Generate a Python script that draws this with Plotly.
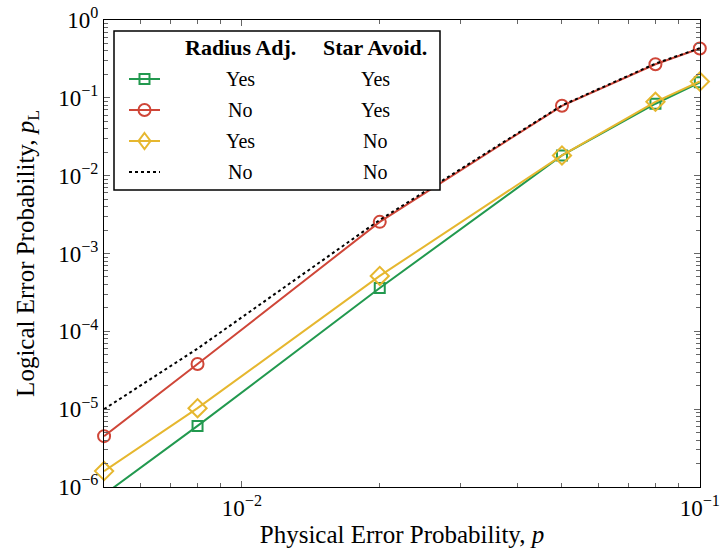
import plotly.graph_objects as go

# ---------------- data ----------------
p_vals = [0.005, 0.008, 0.02, 0.05, 0.08, 0.1]
pl_yes_yes = [8.0e-7, 6.1e-6, 3.6e-4, 0.0182, 0.084, 0.158]   # Radius Adj. Yes, Star Avoid. Yes
pl_no_yes = [4.5e-6, 3.8e-5, 2.55e-3, 0.079, 0.27, 0.43]      # Radius Adj. No,  Star Avoid. Yes
pl_yes_no = [1.6e-6, 1.03e-5, 5.15e-4, 0.0182, 0.089, 0.162]  # Radius Adj. Yes, Star Avoid. No
pl_no_no = [1.0e-5, 6.0e-5, 2.7e-3, 0.08, 0.275, 0.435]       # Radius Adj. No,  Star Avoid. No

radius_col = ["Yes", "No", "Yes", "No"]
star_col = ["Yes", "Yes", "No", "No"]
header = ["Radius Adj.", "Star Avoid."]

x_tickvals = [0.01, 0.1]
x_ticktext = ["10<sup>−2</sup>", "10<sup>−1</sup>"]
y_exps = [-6, -5, -4, -3, -2, -1, 0]
y_tickvals = [10.0 ** e for e in y_exps]
y_ticktext = ["10<sup>%s</sup>" % (("−%d" % -e) if e < 0 else "%d" % e) for e in y_exps]

GREEN = "#22994f"
RED = "#cf4638"
YELLOW = "#e6b72f"
BLACK = "#000000"

FONT = "Liberation Serif"

# plot area in pixels (for legend layout)
L, R, T, B = 104, 700, 20, 487
W, H = 725, 548


def px(xp):
    return (xp - L) / (R - L)


def py(yp):
    return (B - yp) / (B - T)


fig = go.Figure()

fig.add_trace(go.Scatter(x=p_vals, y=pl_yes_yes, mode="lines+markers",
                         line=dict(color=GREEN, width=2),
                         marker=dict(symbol="square-open", size=10, color=GREEN, line=dict(width=2)),
                         cliponaxis=True, showlegend=False))
fig.add_trace(go.Scatter(x=p_vals, y=pl_no_yes, mode="lines+markers",
                         line=dict(color=RED, width=2),
                         marker=dict(symbol="circle-open", size=12, color=RED, line=dict(width=2)),
                         cliponaxis=False, showlegend=False))
fig.add_trace(go.Scatter(x=p_vals, y=pl_yes_no, mode="lines+markers",
                         line=dict(color=YELLOW, width=2),
                         marker=dict(symbol="diamond-open", size=14, color=YELLOW, line=dict(width=2)),
                         cliponaxis=False, showlegend=False))
fig.add_trace(go.Scatter(x=p_vals, y=pl_no_no, mode="lines",
                         line=dict(color=BLACK, width=2, dash="dot"),
                         showlegend=False))

# minor ticks (2..9 per decade)
y_minor = [k * 10.0 ** e for e in range(-6, 0) for k in range(2, 10)]
x_minor = [k * 10.0 ** e for e in range(-3, -1) for k in range(2, 10) if 0.005 <= k * 10.0 ** e <= 0.1]

axis_common = dict(showgrid=False, zeroline=False, showline=True, linecolor="black", linewidth=1,
                   ticks="inside", ticklen=6, tickcolor="#666", tickwidth=1, mirror="allticks",
                   automargin=False,
                   tickfont=dict(family=FONT, size=23, color="black"))

fig.update_xaxes(type="log", range=[-2.3012, -0.9996], tickmode="array", tickvals=x_tickvals,
                 ticktext=x_ticktext,
                 minor=dict(tickmode="array", tickvals=x_minor, ticks="inside", ticklen=4,
                            tickcolor="#666", showgrid=False),
                 title=dict(text="Physical Error Probability, <i>p</i>",
                            font=dict(family=FONT, size=25, color="black"), standoff=9),
                 **axis_common)
fig.update_yaxes(type="log", range=[-6, 0], tickmode="array", tickvals=y_tickvals,
                 ticktext=y_ticktext,
                 minor=dict(tickmode="array", tickvals=y_minor, ticks="inside", ticklen=4,
                            tickcolor="#666", showgrid=False),
                 title=dict(text="Logical Error Probability, <i>p</i><sub>L</sub>",
                            font=dict(family=FONT, size=25, color="black"), standoff=16),
                 **axis_common)

# ---------------- custom legend ----------------
shapes = []
annotations = []
box = dict(x0=114, x1=440, y0=31, y1=190)
shapes.append(dict(type="rect", xref="paper", yref="paper", layer="above",
                   x0=px(box["x0"]), x1=px(box["x1"]), y0=py(box["y1"]), y1=py(box["y0"]),
                   line=dict(color="black", width=1.5), fillcolor="white"))

row_y = [79, 110, 141, 172]
gx0, gx1, gxc = 129, 160, 144.5
colors = [GREEN, RED, YELLOW, BLACK]
for i, yy in enumerate(row_y):
    c = colors[i]
    shapes.append(dict(type="line", xref="paper", yref="paper", layer="above",
                       x0=px(gx0), x1=px(gx1), y0=py(yy), y1=py(yy),
                       line=dict(color=c, width=2, dash="dot" if i == 3 else "solid")))
    if i == 0:
        shapes.append(dict(type="rect", xref="paper", yref="paper", layer="above",
                           x0=px(gxc - 5), x1=px(gxc + 5), y0=py(yy + 5), y1=py(yy - 5),
                           line=dict(color=c, width=2)))
    elif i == 1:
        shapes.append(dict(type="circle", xref="paper", yref="paper", layer="above",
                           x0=px(gxc - 6), x1=px(gxc + 6), y0=py(yy + 6), y1=py(yy - 6),
                           line=dict(color=c, width=2)))
    elif i == 2:
        path = "M %f,%f L %f,%f L %f,%f L %f,%f Z" % (
            px(gxc), py(yy - 8), px(gxc + 6), py(yy), px(gxc), py(yy + 8), px(gxc - 6), py(yy))
        shapes.append(dict(type="path", xref="paper", yref="paper", layer="above",
                           path=path, line=dict(color=c, width=2)))

col_x = [240, 375]
for j, h in enumerate(header):
    annotations.append(dict(xref="paper", yref="paper", x=px(col_x[j]), y=py(47),
                            text="<b>%s</b>" % h, showarrow=False, xanchor="center", yanchor="middle",
                            font=dict(family=FONT, size=22, color="black")))
for i, yy in enumerate(row_y):
    annotations.append(dict(xref="paper", yref="paper", x=px(col_x[0]), y=py(yy),
                            text=radius_col[i], showarrow=False, xanchor="center", yanchor="middle",
                            font=dict(family=FONT, size=20, color="black")))
    annotations.append(dict(xref="paper", yref="paper", x=px(col_x[1]), y=py(yy),
                            text=star_col[i], showarrow=False, xanchor="center", yanchor="middle",
                            font=dict(family=FONT, size=20, color="black")))

fig.update_layout(width=W, height=H, margin=dict(l=L, r=W - R, t=T, b=H - B),
                  paper_bgcolor="white", plot_bgcolor="white",
                  shapes=shapes, annotations=annotations, showlegend=False)

fig.write_html("out.html")
